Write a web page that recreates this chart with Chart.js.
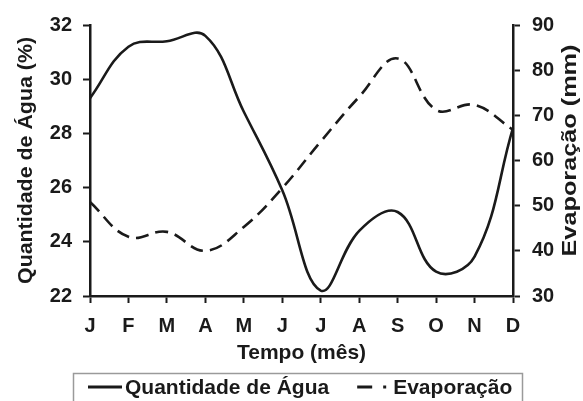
<!DOCTYPE html>
<html>
<head>
<meta charset="utf-8">
<script src="https://cdn.jsdelivr.net/npm/chart.js@4/dist/chart.umd.min.js"></script>
<style>
  html, body { margin: 0; padding: 0; background: #fff; }
  #wrap { width: 583px; height: 401px; }
</style>
</head>
<body>
<div id="wrap"><canvas id="chart" width="583" height="401"></canvas></div>
<script>
// dados
const meses = ['J', 'F', 'M', 'A', 'M', 'J', 'J', 'A', 'S', 'O', 'N', 'D'];
const quantidadeAgua = [29.3, 31.2, 31.4, 31.6, 28.8, 25.9, 22.2, 24.4, 25.1, 22.9, 23.45, 28.2];
const evaporacao = [50.8, 43.1, 44.2, 40.0, 45.3, 53.9, 64.2, 74.1, 82.6, 71.2, 72.3, 66.8];
const tituloEsq = 'Quantidade de Água (%)';
const tituloDir = 'Evaporação (mm)';
const tituloX = 'Tempo (mês)';

const fonte = 'Liberation Sans, Arial, sans-serif';
const cor = '#1a1a1a';

/* títulos verticais (o da direita lê de baixo para cima) */
const titulosY = {
  id: 'titulosY',
  afterDraw(chart) {
    const c = chart.ctx;
    const meio = (chart.chartArea.top + chart.chartArea.bottom) / 2;
    const desenha = (txt, x, y, tam, comp) => {
      c.save();
      c.translate(x, y);
      c.rotate(-Math.PI / 2);
      c.font = 'bold ' + tam + 'px ' + fonte;
      c.fillStyle = cor;
      c.textAlign = 'center';
      c.textBaseline = 'middle';
      const w = c.measureText(txt).width;
      c.scale(comp / w, 1);
      c.fillText(txt, 0, 0);
      c.restore();
    };
    desenha(tituloEsq, 26, meio, 20, 247);
    desenha(tituloDir, 570, meio - 10, 20, 212);
  }
};

/* legenda com moldura, no rodapé */
const legendaRodape = {
  id: 'legendaRodape',
  afterDraw(chart) {
    const c = chart.ctx;
    const topo = chart.scales.x.bottom;
    c.save();
    c.strokeStyle = '#9a9a9a';
    c.lineWidth = 1.5;
    c.strokeRect(73.5, topo + 0.5, 449, 40);
    const y = topo + 14;
    let x = 88;
    c.font = 'bold 21px ' + fonte;
    c.textBaseline = 'middle';
    c.textAlign = 'left';
    chart.data.datasets.forEach((ds, i) => {
      const larg = i === 0 ? 34 : 31;
      c.strokeStyle = cor;
      c.lineWidth = 2.8;
      c.setLineDash(i === 0 ? [] : [15, 11, 3, 40]);
      c.beginPath();
      c.moveTo(x, y);
      c.lineTo(x + larg, y);
      c.stroke();
      c.setLineDash([]);
      x += larg + (i === 0 ? 3 : 5);
      c.fillStyle = cor;
      c.fillText(ds.label, x, y + 1);
      x += c.measureText(ds.label).width + 28;
    });
    c.restore();
  }
};

const ctx = document.querySelector('#chart').getContext('2d');

new Chart(ctx, {
  type: 'line',
  data: {
    labels: meses,
    datasets: [
      {
        label: 'Quantidade de Água',
        data: quantidadeAgua,
        yAxisID: 'y',
        borderColor: cor,
        borderWidth: 2.6,
        tension: 0.4,
        pointRadius: 0,
        fill: false
      },
      {
        label: 'Evaporação',
        data: evaporacao,
        yAxisID: 'y1',
        borderColor: cor,
        borderWidth: 2.6,
        borderDash: [13, 7],
        tension: 0.4,
        pointRadius: 0,
        fill: false
      }
    ]
  },
  options: {
    responsive: false,
    animation: false,
    layout: { padding: { top: 25, left: 0, right: 0, bottom: 28 } },
    plugins: {
      tooltip: { enabled: false },
      legend: { display: false }
    },
    scales: {
      x: {
        offset: false,
        grid: { drawOnChartArea: false, offset: false, tickLength: 7, tickColor: cor, tickWidth: 2 },
        border: { color: cor, width: 2.5 },
        ticks: { color: cor, font: { family: fonte, size: 20, weight: 'bold' }, padding: 11, maxRotation: 0, autoSkip: false },
        title: { display: true, text: tituloX, color: cor, font: { family: fonte, size: 21, weight: 'bold' }, padding: { top: 0, bottom: 7 } },
        afterFit(scale) { scale.height = 77; }
      },
      y: {
        position: 'left',
        min: 22, max: 32,
        ticks: { stepSize: 2, color: cor, font: { family: fonte, size: 20, weight: 'bold' }, padding: 11 },
        grid: { drawOnChartArea: false, tickLength: 7, tickColor: cor, tickWidth: 2 },
        border: { color: cor, width: 2.5 },
        afterFit(scale) { scale.width = 90; }
      },
      y1: {
        position: 'right',
        min: 30, max: 90,
        ticks: { stepSize: 10, color: cor, font: { family: fonte, size: 20, weight: 'bold' }, padding: 12 },
        grid: { drawOnChartArea: false, tickLength: 7, tickColor: cor, tickWidth: 2 },
        border: { color: cor, width: 2.5 },
        afterFit(scale) { scale.width = 70; }
      }
    }
  },
  plugins: [titulosY, legendaRodape]
});
</script>
</body>
</html>
